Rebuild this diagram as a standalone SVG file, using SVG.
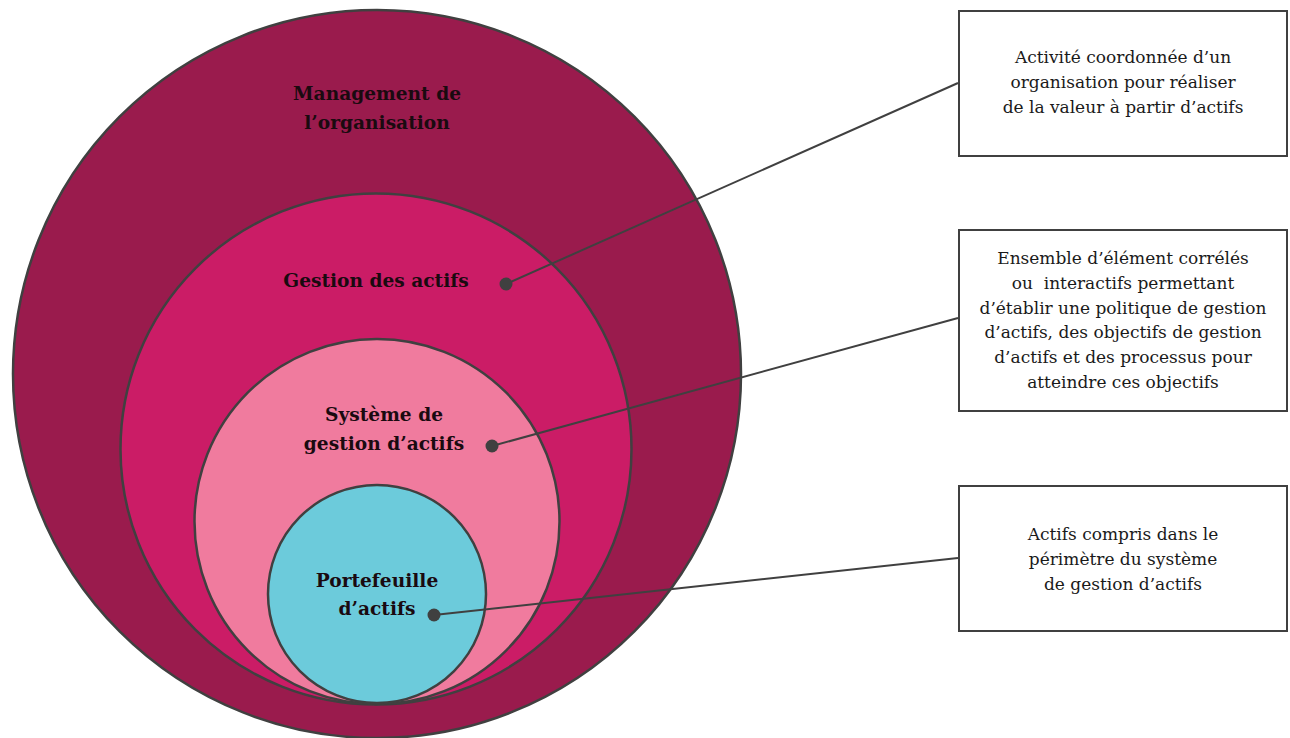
<svg xmlns="http://www.w3.org/2000/svg" width="1290" height="738" viewBox="0 0 1290 738">
<style>
.ring{stroke:#404040;stroke-width:2.5}
.lbl{font-family:"DejaVu Serif","Liberation Serif",serif;font-weight:bold;font-size:18.6px;fill:#1a0a10;text-anchor:middle}
.box{fill:#fff;stroke:#404040;stroke-width:2}
.txt{font-family:"DejaVu Serif","Liberation Serif",serif;font-size:17px;fill:#1a1a1a;text-anchor:middle}
.con{stroke:#404040;stroke-width:2;fill:none}
.dot{fill:#404040}
</style>
<rect width="1290" height="738" fill="#fff"/>
<g id="management">
<circle class="ring" cx="377" cy="374" r="364" fill="#9A1B4D"/>
<text class="lbl" x="377" y="100">Management de</text>
<text class="lbl" x="377" y="129">l’organisation</text>
</g>
<g id="gestion">
<circle class="ring" cx="376" cy="449" r="255.5" fill="#CB1C66"/>
<text class="lbl" x="376" y="287">Gestion des actifs</text>
</g>
<g id="systeme">
<circle class="ring" cx="377" cy="521.5" r="182.5" fill="#F07B9E"/>
<text class="lbl" x="384" y="421">Système de</text>
<text class="lbl" x="384" y="450">gestion d’actifs</text>
</g>
<g id="portefeuille">
<circle class="ring" cx="377" cy="594" r="109" fill="#6CCBDB"/>
<text class="lbl" x="377" y="587">Portefeuille</text>
<text class="lbl" x="377" y="615">d’actifs</text>
</g>
<g id="connectors">
<line class="con" x1="506" y1="284" x2="958" y2="83"/>
<line class="con" x1="492" y1="446" x2="958" y2="318"/>
<line class="con" x1="434" y1="615" x2="958" y2="558"/>
<circle class="dot" cx="506" cy="284" r="6.5"/>
<circle class="dot" cx="492" cy="446" r="6.5"/>
<circle class="dot" cx="434" cy="615" r="6.5"/>
</g>
<g id="box1">
<rect class="box" x="959" y="11" width="328" height="145"/>
<text class="txt" x="1123" y="63">Activité coordonnée d’un</text>
<text class="txt" x="1123" y="88">organisation pour réaliser</text>
<text class="txt" x="1123" y="113">de la valeur à partir d’actifs</text>
</g>
<g id="box2">
<rect class="box" x="959" y="230" width="328" height="181"/>
<text class="txt" x="1123" y="264">Ensemble d’élément corrélés</text>
<text class="txt" x="1123" y="289" xml:space="preserve">ou  interactifs permettant</text>
<text class="txt" x="1123" y="314">d’établir une politique de gestion</text>
<text class="txt" x="1123" y="338">d’actifs, des objectifs de gestion</text>
<text class="txt" x="1123" y="363">d’actifs et des processus pour</text>
<text class="txt" x="1123" y="388">atteindre ces objectifs</text>
</g>
<g id="box3">
<rect class="box" x="959" y="486" width="328" height="145"/>
<text class="txt" x="1123" y="540">Actifs compris dans le</text>
<text class="txt" x="1123" y="565">périmètre du système</text>
<text class="txt" x="1123" y="590">de gestion d’actifs</text>
</g>
</svg>
